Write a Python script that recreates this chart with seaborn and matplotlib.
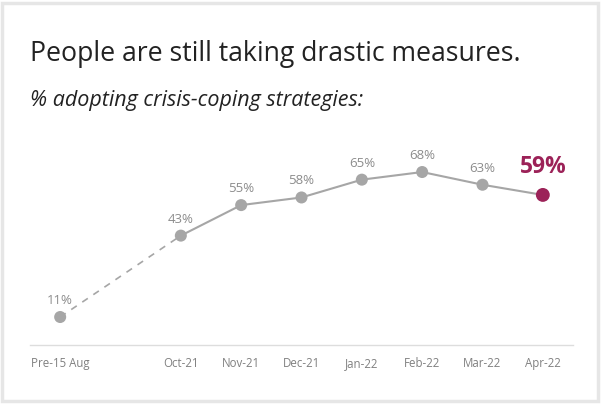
import matplotlib
matplotlib.use("Agg")
import matplotlib.pyplot as plt
import seaborn as sns
import pandas as pd
from matplotlib.patches import Rectangle

categories = ["Pre-15 Aug", "Oct-21", "Nov-21", "Dec-21", "Jan-22", "Feb-22", "Mar-22", "Apr-22"]
positions = [0, 2, 3, 4, 5, 6, 7, 8]
values = [11, 43, 55, 58, 65, 68, 63, 59]

df = pd.DataFrame({"cat": categories, "pos": positions, "val": values})

sns.set_theme(style="white")
plt.rcParams["font.family"] = ["Open Sans", "DejaVu Sans"]

GRAY = "#a6a6a6"
MAROON = "#9c2258"

fig = plt.figure(figsize=(6.05, 4.06), dpi=100)
ax = fig.add_axes([30 / 605, (406 - 346) / 406, (573 - 30) / 605, (346 - 142.5) / 406])

# dashed segment (gap period)
sns.lineplot(data=df.iloc[:2], x="pos", y="val", ax=ax, color=GRAY, lw=1.2,
             linestyle=(0, (4, 4)), legend=False)
# solid segment
sns.lineplot(data=df.iloc[1:], x="pos", y="val", ax=ax, color=GRAY, lw=1.5, legend=False)
# points
sns.scatterplot(data=df.iloc[:-1], x="pos", y="val", ax=ax, color=GRAY, s=75,
                edgecolor="none", zorder=3, legend=False)
sns.scatterplot(data=df.iloc[-1:], x="pos", y="val", ax=ax, color=MAROON, s=100,
                edgecolor="none", zorder=4, legend=False)

for i, (p, v) in enumerate(zip(positions, values)):
    if i == len(values) - 1:
        ax.annotate(f"{v}%", (p, v), xytext=(0, 12), textcoords="offset points",
                    ha="center", va="bottom", fontsize=16.5, fontweight="bold", color=MAROON)
    else:
        ax.annotate(f"{v}%", (p, v), xytext=(0, 8), textcoords="offset points",
                    ha="center", va="bottom", fontsize=9.5, color="#8c8c8c")

ax.set_xlim(-0.5, 8.5)
ax.set_ylim(0, 80)
ax.set_xticks(positions)
ax.set_xticklabels(categories, fontsize=8.3, color="#808080")
ax.set_yticks([])
ax.set_xlabel("")
ax.set_ylabel("")
ax.tick_params(axis="x", length=0, pad=8)
for s in ["top", "right", "left"]:
    ax.spines[s].set_visible(False)
ax.spines["bottom"].set_color("#dddddd")
ax.spines["bottom"].set_linewidth(1)
ax.patch.set_alpha(0)

fig.text(30 / 605, 1 - 61 / 406, "People are still taking drastic measures.",
         fontsize=19.2, color="#222222", ha="left", va="baseline")
fig.text(30 / 605, 1 - 106 / 406, "% adopting crisis-coping strategies:",
         fontsize=15.5, style="italic", color="#222222", ha="left", va="baseline")

fig.patches.append(Rectangle((2 / 605, 4 / 406), 596 / 605, 398 / 406,
                             transform=fig.transFigure, fill=False,
                             edgecolor="#e6e6e6", linewidth=2.5))

fig.savefig("out.png", dpi=100, facecolor="white")
